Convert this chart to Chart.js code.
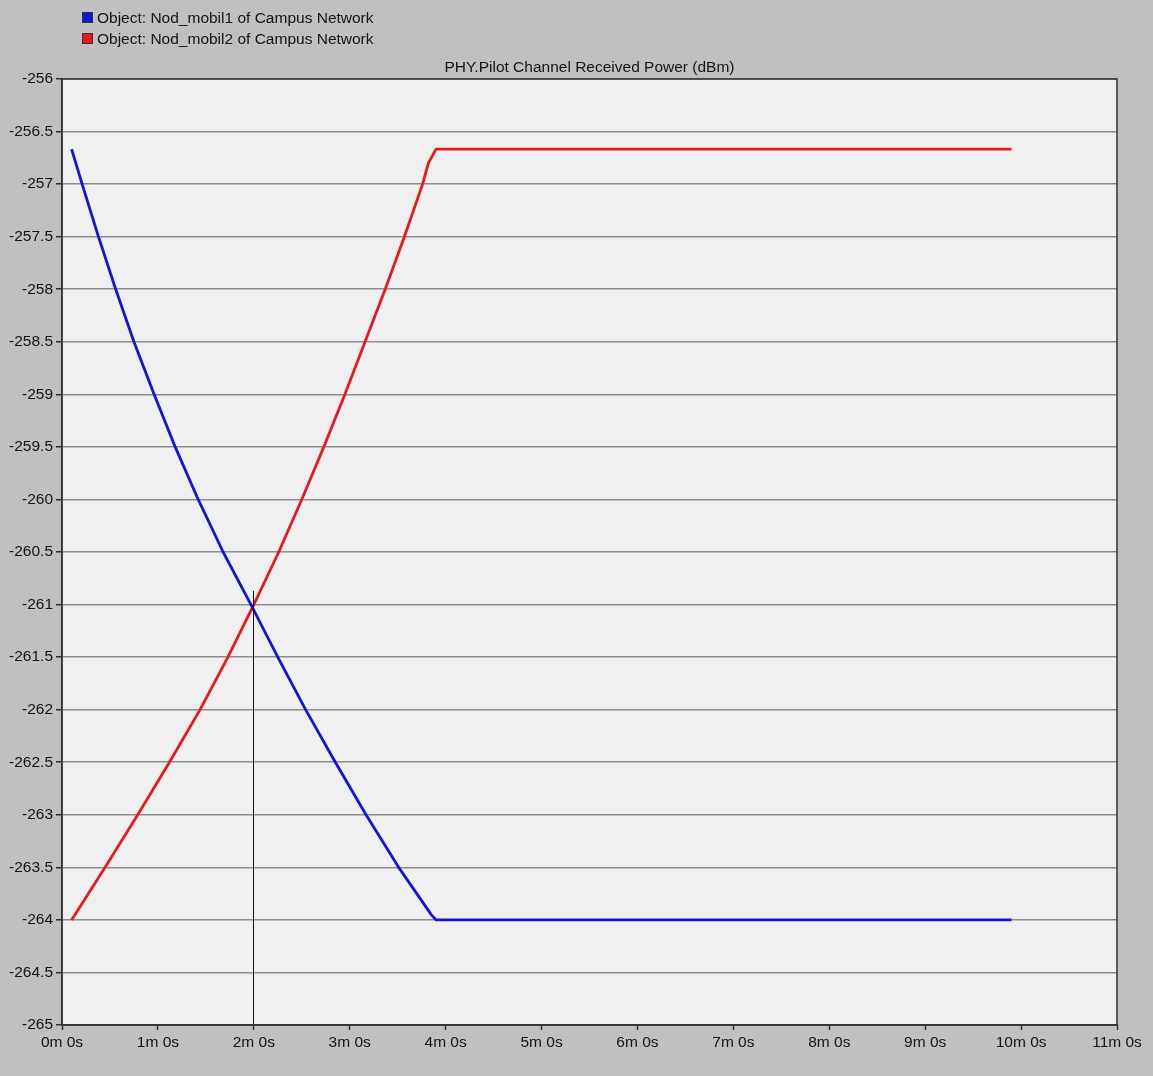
<!DOCTYPE html>
<html>
<head>
<meta charset="utf-8">
<title>PHY.Pilot Channel Received Power (dBm)</title>
<script src="https://cdn.jsdelivr.net/npm/chart.js@4/dist/chart.umd.min.js"></script>
<style>
  html, body { margin: 0; padding: 0; background: #c0c0c0; }
  #wrap { width: 1153px; height: 1076px; position: relative; }
</style>
</head>
<body>
<div id="wrap"><canvas id="chart" width="1153" height="1076"></canvas></div>
<script>
// Simulation time in minutes, received pilot power in dBm
const mobil1Minutes = [0.1, 0.21, 0.38, 0.56, 0.75, 0.96, 1.18, 1.42, 1.68, 1.97, 2.25, 2.54, 2.85, 3.17, 3.51, 3.85, 3.9, 9.9];
const mobil1Power   = [-256.667, -257, -257.5, -258, -258.5, -259, -259.5, -260, -260.5, -261, -261.5, -262, -262.5, -263, -263.5, -263.95, -264, -264];

const mobil2Minutes = [0.1, 0.45, 0.79, 1.12, 1.44, 1.73, 2.0, 2.26, 2.5, 2.73, 2.95, 3.16, 3.37, 3.57, 3.76, 3.82, 3.9, 9.9];
const mobil2Power   = [-264, -263.5, -263, -262.5, -262, -261.5, -261, -260.5, -260, -259.5, -259, -258.5, -258, -257.5, -257, -256.8, -256.667, -256.667];

const seriesLabels = ['Object: Nod_mobil1 of Campus Network', 'Object: Nod_mobil2 of Campus Network'];
const seriesColors = ['#1414d6', '#e8191e'];
const chartTitle = 'PHY.Pilot Channel Received Power (dBm)';

// Vertical cursor marker
const cursorMinute = 2;
const cursorTopPower = -260.87;

const FONT = '"Liberation Sans", Arial, sans-serif';
const FONT_SIZE = 15.5;

function toPoints(xs, ys) { return xs.map((x, i) => ({ x: x, y: ys[i] })); }

const framePlugin = {
  id: 'frame',
  beforeDraw(chart) {
    const { ctx, chartArea: a, width, height } = chart;
    ctx.save();
    ctx.fillStyle = '#c0c0c0';
    ctx.fillRect(0, 0, width, height);
    ctx.fillStyle = '#f0f0f0';
    ctx.fillRect(a.left, a.top, a.right - a.left, a.bottom - a.top);
    ctx.restore();
  },
  afterDatasetsDraw(chart) {
    const { ctx, chartArea: a, scales } = chart;
    ctx.save();
    // cursor line
    const cx = Math.round(scales.x.getPixelForValue(cursorMinute)) - 0.5;
    ctx.strokeStyle = '#111';
    ctx.lineWidth = 1;
    ctx.beginPath();
    ctx.moveTo(cx, scales.y.getPixelForValue(cursorTopPower));
    ctx.lineTo(cx, a.bottom);
    ctx.stroke();
    // plot frame
    ctx.strokeStyle = '#303030';
    ctx.lineWidth = 1.5;
    ctx.strokeRect(a.left, a.top, a.right - a.left, a.bottom - a.top);
    ctx.restore();
  },
  afterDraw(chart) {
    const { ctx, chartArea: a } = chart;
    ctx.save();
    ctx.font = FONT_SIZE + 'px ' + FONT;
    ctx.fillStyle = '#141414';
    ctx.textBaseline = 'middle';
    // title centred over the plot
    ctx.textAlign = 'center';
    ctx.fillText(chartTitle, (a.left + a.right) / 2, 68);
    // legend
    ctx.textAlign = 'left';
    chart.data.datasets.forEach((ds, i) => {
      const y = 18 + i * 21;
      ctx.fillStyle = ds.borderColor;
      ctx.fillRect(82, y - 6, 11, 11);
      ctx.strokeStyle = '#333';
      ctx.lineWidth = 1;
      ctx.strokeRect(82.5, y - 5.5, 10, 10);
      ctx.fillStyle = '#141414';
      ctx.fillText(ds.label, 97, y + 1);
    });
    ctx.restore();
  }
};

new Chart(document.getElementById('chart'), {
  type: 'line',
  data: {
    datasets: [
      { label: seriesLabels[0], data: toPoints(mobil1Minutes, mobil1Power), borderColor: seriesColors[0] },
      { label: seriesLabels[1], data: toPoints(mobil2Minutes, mobil2Power), borderColor: seriesColors[1] }
    ]
  },
  options: {
    responsive: false,
    animation: false,
    layout: { padding: { top: 79, right: 36, bottom: 0, left: 0 } },
    elements: {
      point: { radius: 0 },
      line: { borderWidth: 2.8, tension: 0, borderJoinStyle: 'round', borderCapStyle: 'butt', fill: false }
    },
    plugins: {
      legend: { display: false },
      title: { display: false },
      tooltip: { enabled: false }
    },
    scales: {
      x: {
        type: 'linear',
        min: 0,
        max: 11,
        afterFit(scale) { scale.height = 51; },
        ticks: {
          stepSize: 1,
          autoSkip: false,
          maxRotation: 0,
          padding: 3,
          color: '#141414',
          font: { family: FONT, size: FONT_SIZE },
          callback: (v) => v + 'm 0s'
        },
        grid: { drawOnChartArea: false, drawTicks: true, tickLength: 5, tickColor: '#303030', tickWidth: 1.5 },
        border: { display: true, color: '#303030', width: 1.5 }
      },
      y: {
        type: 'linear',
        min: -265,
        max: -256,
        afterFit(scale) { scale.width = 62; },
        ticks: {
          stepSize: 0.5,
          autoSkip: false,
          padding: 3,
          color: '#141414',
          font: { family: FONT, size: FONT_SIZE },
          callback: (v) => String(v)
        },
        grid: { color: '#8c8c8c', lineWidth: 1.5, drawTicks: true, tickLength: 6, tickColor: '#303030', tickWidth: 1.5 },
        border: { display: true, color: '#303030', width: 1.5 }
      }
    }
  },
  plugins: [framePlugin]
});
</script>
</body>
</html>
